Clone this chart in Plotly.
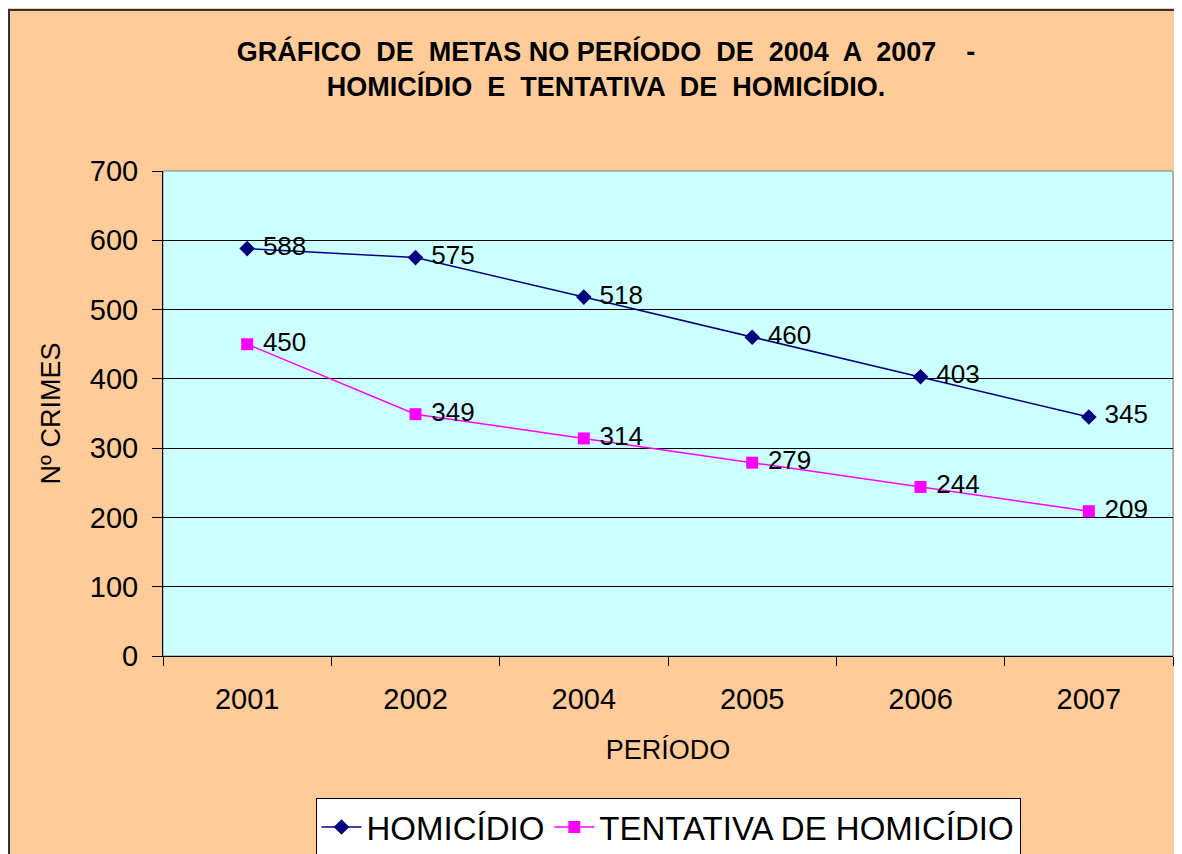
import plotly.graph_objects as go

periods = ["2001", "2002", "2004", "2005", "2006", "2007"]
homicidio = [588, 575, 518, 460, 403, 345]
tentativa = [450, 349, 314, 279, 244, 209]
y_ticks = [0, 100, 200, 300, 400, 500, 600, 700]

W, H = 1174, 846
L, R, T, B = 155, 1165, 163, 648
pw, ph = R - L, B - T

def px(x):
    return (x - L) / pw

def py(y):
    return (B - y) / ph

narrow = "Liberation Sans Narrow, Arial Narrow, Arial, sans-serif"
sans = "Arial, Liberation Sans, sans-serif"

fig = go.Figure()
fig.add_trace(go.Scatter(
    x=periods, y=homicidio, name="HOMICÍDIO", mode="lines+markers+text",
    line=dict(color="#000080", width=1.5),
    marker=dict(symbol="diamond", size=12, color="#000080"),
    text=[" " + str(v) for v in homicidio], textposition="middle right",
    textfont=dict(family=sans, size=26, color="#000000"),
))
fig.add_trace(go.Scatter(
    x=periods, y=tentativa, name="TENTATIVA DE HOMICÍDIO", mode="lines+markers+text",
    line=dict(color="#FF00FF", width=1.5),
    marker=dict(symbol="square", size=12, color="#FF00FF"),
    text=[" " + str(v) for v in tentativa], textposition="middle right",
    textfont=dict(family=sans, size=26, color="#000000"),
))

fig.update_layout(
    width=W, height=H, autosize=False,
    margin=dict(l=L, r=W - R, t=T, b=H - B, autoexpand=False),
    paper_bgcolor="#FFCC99", plot_bgcolor="#CCFFFF",
    title=dict(
        text="GRÁFICO  DE  METAS NO PERÍODO  DE  2004  A  2007    -<br>HOMICÍDIO  E  TENTATIVA  DE  HOMICÍDIO.",
        font=dict(family=narrow, size=27, color="#000000", weight="bold"),
        x=598 / W, xanchor="center", xref="container",
        y=1 - 53 / H, yanchor="middle", yref="container",
    ),
    xaxis=dict(
        type="category", tickson="boundaries", ticks="outside", ticklen=9,
        tickcolor="#000000", showline=True, linecolor="#000000", linewidth=1,
        showgrid=False, tickfont=dict(family=sans, size=29, color="#000000"),
        ticklabelstandoff=17, automargin=False,
        title=dict(text="PERÍODO", font=dict(family=sans, size=27, color="#000000"), standoff=26),
        range=[-0.5, 5.5],
    ),
    yaxis=dict(
        range=[0, 700], tickvals=y_ticks, ticks="outside", ticklen=10,
        tickcolor="#000000", showline=True, linecolor="#000000", linewidth=1,
        showgrid=True, gridcolor="#000000", gridwidth=1, zeroline=False,
        tickfont=dict(family=sans, size=29, color="#000000"),
        ticklabelstandoff=8, automargin=False,
        title=dict(text="Nº CRIMES", font=dict(family=sans, size=27, color="#000000"), standoff=21),
    ),
    legend=dict(
        orientation="h", x=0.5, xanchor="center", y=py(790), yanchor="top",
        bgcolor="#FFFFFF", bordercolor="#000000", borderwidth=1,
        font=dict(family=narrow, size=33, color="#000000"),
        itemwidth=40,
    ),
    showlegend=True,
)

# plot-area frame (grey top/right) and dark outer border of the chart
fig.add_shape(type="rect", xref="paper", yref="paper", x0=0, x1=1, y0=0, y1=1,
              line=dict(color="#808080", width=1), layer="below")
fig.add_shape(type="line", xref="paper", yref="paper", x0=px(0), x1=px(W + 5), y0=py(2), y1=py(2),
              line=dict(color="#333333", width=2))
fig.add_shape(type="line", xref="paper", yref="paper", x0=px(1), x1=px(1), y0=py(2), y1=py(H + 5),
              line=dict(color="#333333", width=2))

fig.write_html("out.html", post_script="document.body.style.overflow='hidden';")
